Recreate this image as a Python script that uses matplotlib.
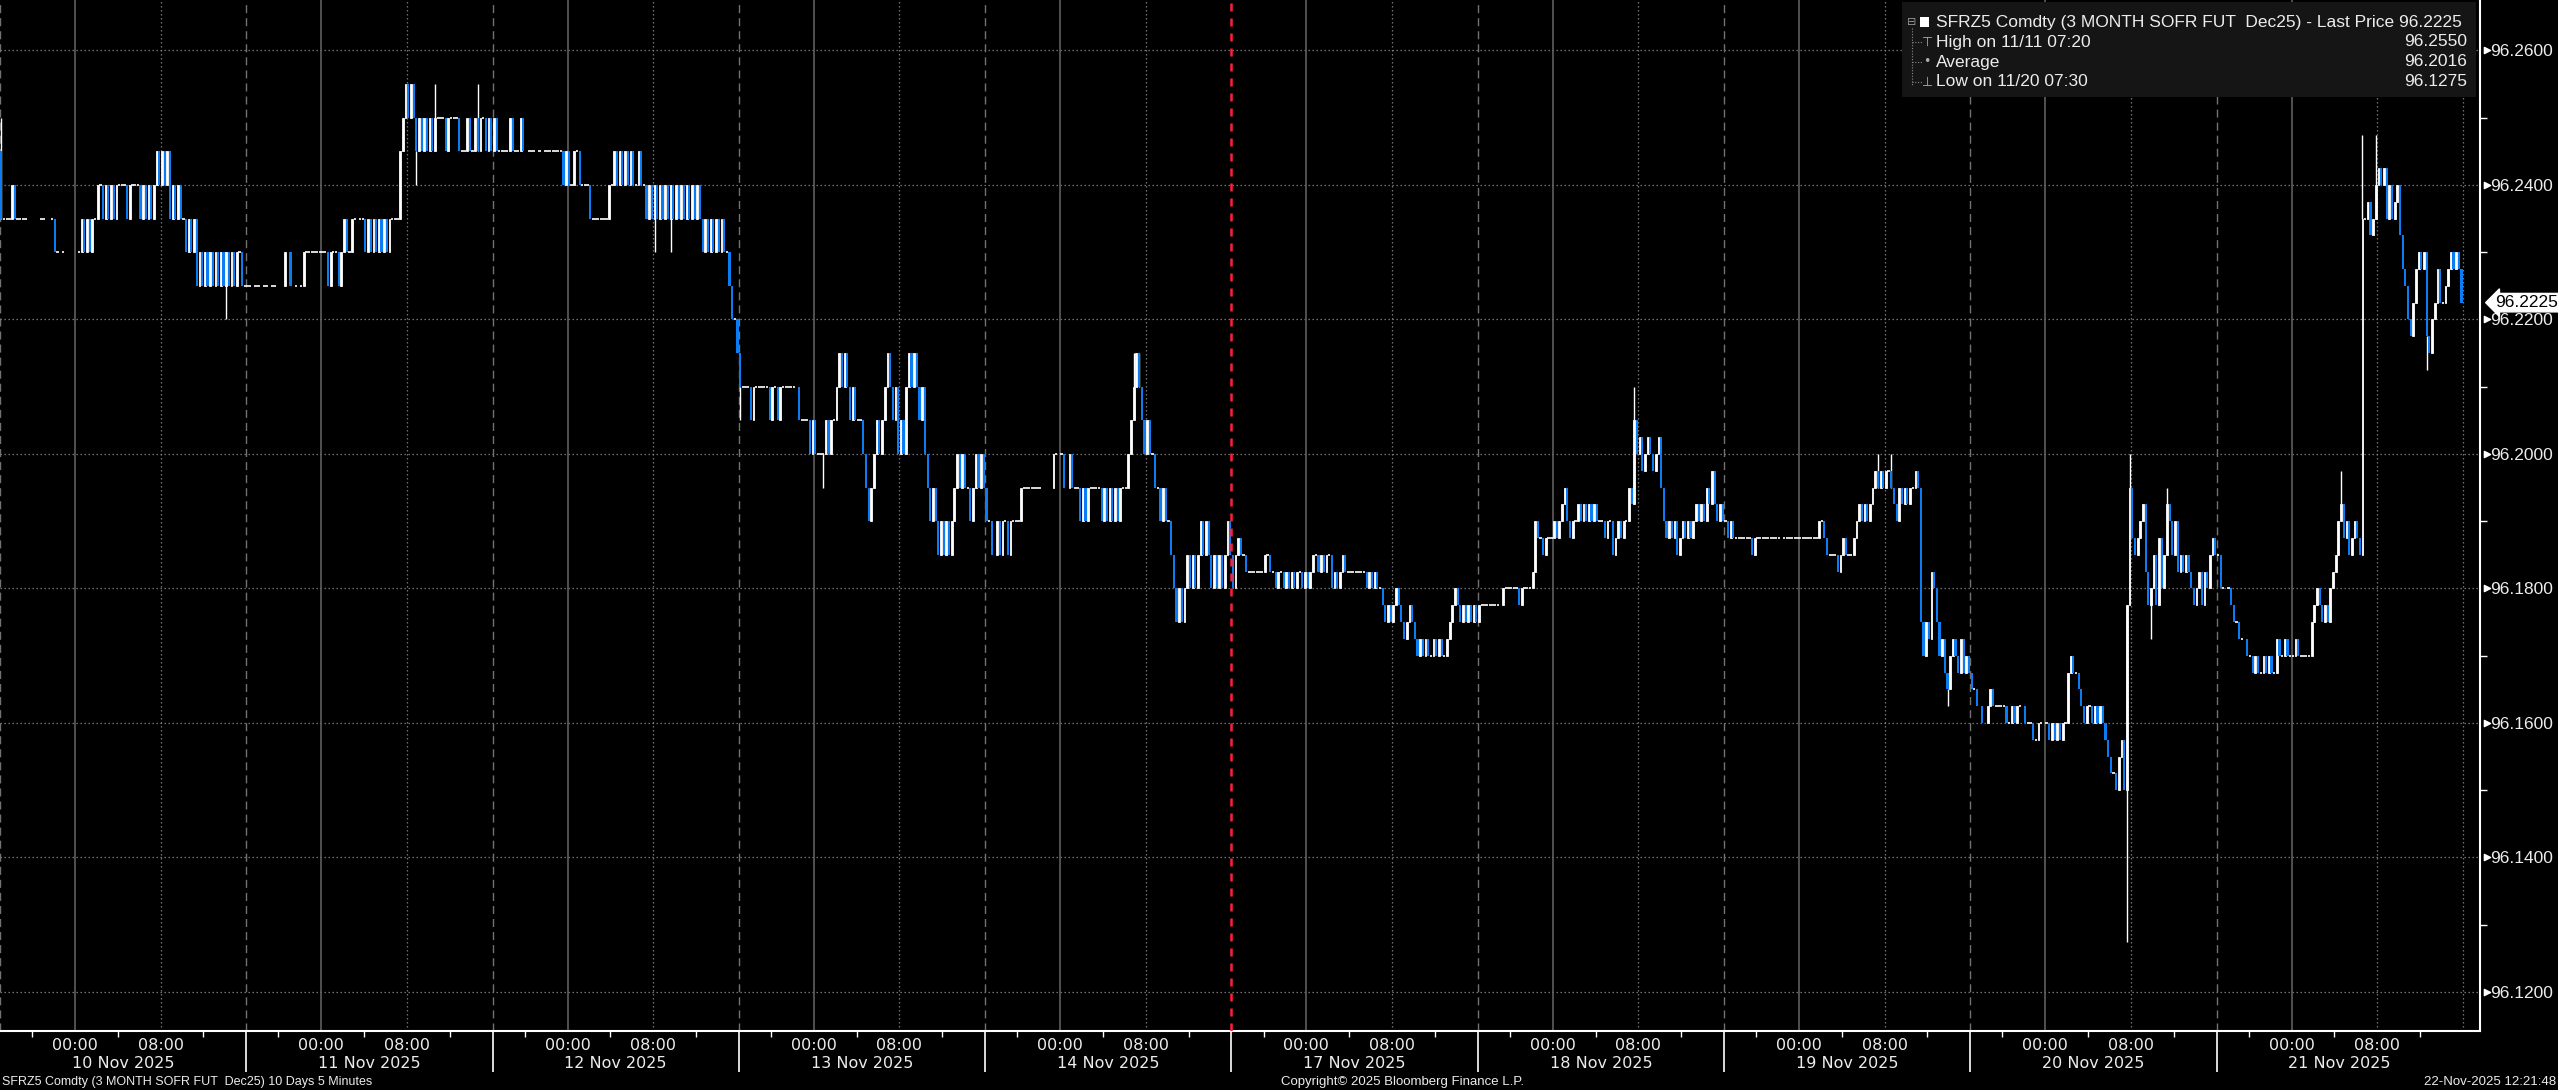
import numpy as np
import matplotlib
matplotlib.use("Agg")
import matplotlib.pyplot as plt
from matplotlib.patches import Rectangle
from matplotlib.lines import Line2D
from matplotlib.ticker import MultipleLocator

plt.rcParams["font.family"] = ["Liberation Sans", "DejaVu Sans"]

BASE, TICK = 96.12, 0.0025      # closes are stored as quarter-ticks above 96.12
SESSION_H, BAR_H = 23, 0.25     # 17:00 -> 16:00 session, 15 minute bars
N_DAYS = 10

day_labels = ["10 Nov 2025", "11 Nov 2025", "12 Nov 2025", "13 Nov 2025", "14 Nov 2025",
              "17 Nov 2025", "18 Nov 2025", "19 Nov 2025", "20 Nov 2025", "21 Nov 2025"]
first_open = 50

# 92 bars per session, None = no trade in that bar
close_10nov = [46, 46, 46, 46, 48, 46, 46, 46, 46, 46,
               None, None, None, None, None,
               46, 46, None, None, 46, 44, 44, None, 44,
               None, None, None, None, None,
               44, 46, 44, 46, 44, 46, 46,
               48, 48, 46, 48, 46, 48, 46, 48, 48, 48, 48,
               46, 48, 48, 48, 48, 46, 48, 46, 48, 46, 48,
               50, 48, 50, 48, 50,
               46, 48, 46, 48, 46, 46,
               44, 46, 44, 46,
               42, 44, 42, 44, 42, 44, 42, 44, 42, 44,
               42, 44, 42, 44, 42, 44, 44, 42, 42]
close_11nov = [42, 42, None, 42, 42, None, 42, 42, None, 42, 42, None,
               None, None,
               44, None, 42, None, 42, None, 42,
               44, 44, 44, 44, 44, 44, 44, 44,
               44, 42, 44, 44, 44, 42, 44,
               46, 44, 44, 46, 46, None, 46, 46, 44, 46,
               44, 46, 44, 46, 44, 46, 44, 46, 46,
               46, 46,
               50, 52, 54, 52, 54,
               52, 50, 52, 50, 52, 50, 52, 50, 52, 52,
               52, 52, 50, 52, 52, 52, 52, 50, 50, 50,
               52, 50, 50, 52, 50, 52, 52, 50, 52, 50]
close_12nov = [52, 50, 50, 50, 50, 50, 52, 50, 50, 50, 52, 50,
               None, 50, 50, 50, None, 50, None, 50, 50, 50, 50, 50, 50,
               50, 48, 50, 48,
               48, 50, 50, 48, 48,
               48, 48, 46, 46, 46, 46, 46, 46, 46, 48, 48,
               50, 48, 50, 48, 50, 48, 50, 48, 48, 50, 48, 48,
               46, 48, 46, 48, 46, 48, 46, 48, 46, 48, 46,
               48, 46, 48, 46, 48, 46, 48, 46, 48, 46,
               44, 46, 44, 46, 44, 46, 44, 46, 44, 44,
               42, 40, 40, 38]
close_13nov = [36,
               36, 36, 36, 34, 36, 36, 36, 36, 36, 36, 34, 36,
               36, 34, 36, 36, 36, 36, 36, 36, None, 34, 34,
               34, 34, 32, 34, 32,
               32, 32, 32, 34, 32,
               34, 34, 36, 38, 36, 38, 36,
               34, 36, 34, 34, 34,
               32, 30, 28, 30,
               32, 34, 32, 34,
               36, 38, 36, 34, 36,
               32, 34, 32,
               36, 38, 36, 38, 36, 34, 36,
               32, 30, 28, 30, 28,
               26, 28, 26, 28, 26, 28,
               30, 32, 30, 32, 30, 30, 28, 30, 32, 30, 32, 30]
close_14nov = [28, 28, 26, None, 28, 26, 28, 28, 26, 28, 28, 28, 28, 30,
               30, 30, 30, 30, 30, 30, 30,
               None, None, None, None,
               32, 32, None, 32, 30, None,
               32, 30,
               30, 30, 28, 30, 28, 30, 30, 30, 30, 30,
               28, 30, 28, 30, 28, 30, 28, 30, 30, 30,
               32,
               34, 36, 38, 36, 34,
               32, 34, 32, 32,
               30, 30,
               28, 30, 28, 28,
               26,
               24, 22, 24, 22, 24, 26, 24,
               26, 24, 26, 28, 26, 28, 26, 24, 26, 24, 26, 24, 26, 28, 26]
close_17nov = [24, 26, 27, 26, 26, 25,
               25, 25, 25, 25, 25, 25, 26, 26, 25,
               25, 24, 25, 25, 24, 25, 24, 25, 24, 25, 25, 24, 25, 24, 25,
               26, 26, 25, 26, 25, 26,
               26, 24, 25, 24, 25, 26,
               25, 25, 25, 25, 25, 25, 25, 25,
               24, 25, 24, 25, 24, 24,
               23, 22, 23, 22, 23, 24, 23, 22, 21, 22, 23, 22,
               21, 20, 21, 20, 21, 20, 20, 21, 20, 21, 20, 20, 21,
               22, 23, 24, 23, 22, 23, 22, 23, 22, 23, 22]
close_18nov = [23, 23, 23, 23, 23, 23, 23, 23, None, 24,
               24, 24, 24, 24, 24, 23, 24, 24, 24, 24, 25,
               28,
               27, 27, 26, 27, 27,
               27, 28, 27, 28, 29,
               30, 28,
               27, 28, 28,
               29, 28, 29, 28, 29, 28, 29, 28, 28,
               28, 27, 28, 28, 26, 27, 28, 27,
               28, 28,
               30, 29,
               34,
               32, 33, 31, 32, 33, 32, 31, 32, 33,
               30, 28,
               27, 28, 27, 28, 26, 27, 28, 27, 28, 27, 28,
               29, 28, 29, 28,
               30, 29, 31, 29,
               28, 29, 28]
close_19nov = [28, 27, 28, 27, 27, 27, 27,
               27, 27, 27, 26, 27, 27, 27, 27, 27, 27,
               27, 27, 27, 27, None, 27, 27, 27, 27,
               27, 27, 27, 27, 27, 27, 27, 27, 27, 28,
               28, 27,
               26, 26,
               26, 26, 25, 26, 27, 26, 26, 26, 27,
               28,
               29, 28, 29, 28, 29, 30,
               31, 30, 31, 30, 31, 31, 30,
               29, 28,
               30, 29, 30, 29, 30, 30,
               31, 30,
               22,
               20, 22, 21,
               25, 24,
               22, 20, 21, 19, 18,
               20, 21, 20, 19, 21, 19, 20, 19]
close_20nov = [18, 18, 17, None, 16, None,
               17, 18, 17, 17, 17, 17, 17,
               16,
               16, 17, 16, 17, 17, None,
               16, 16, 16, 15, 15, 16, 16, None,
               16, 15, 16, 15, 16, 15, 16, 16,
               19, 20, 19, 19,
               18,
               17, 16, 17, 17, 16, 17, 16, 17,
               16, 15,
               14, 13,
               13, 12, 14, 15,
               12,
               23,
               30, 27, 26, 27, 28, 29,
               25, 23, 24,
               26, 23, 27, 24, 26,
               29, 28,
               26, 28, 25,
               26, 25, 26, 25,
               24, 23, 24,
               25, 23, 25, 24,
               26, 27, 26]
close_21nov = [26,
               24, 24, None, 24, 23, 22,
               22, 21, 21, None,
               20, 20, 19, 20, 19, 19, 20, 19, 20, 19, 19,
               21, 20, 20, 21, 20, 20, 20, 21, 20, 20, 20, 20, 20,
               22,
               23, 24, 23, 22, 23, 22, 24,
               25, 26,
               28, 29,
               27, 28, 26, 27, 28, 27, 26,
               46,
               46, 47, 45, 46, 48,
               49, 48, 49, 46, 48, 46, 47, 48,
               45,
               43, 42,
               40, 39, 41,
               43, 44, 43, 44,
               39,
               38, 40,
               41, 43, 41, 41, 42,
               43, 44, 43, 44,
               43, 41]
closes = [close_10nov, close_11nov, close_12nov, close_13nov, close_14nov,
          close_17nov, close_18nov, close_19nov, close_20nov, close_21nov]

# wicks reaching past the body: session, bar, extreme (quarter-ticks)
wick_day = [0, 0, 1, 1, 1, 2, 2, 3, 3, 4, 4, 6, 7, 7, 7, 8, 8, 8, 8, 9, 9, 9, 9]
wick_bar = [0, 84, 63, 70, 86, 60, 66, 0, 31, 55, 57, 58, 57, 62, 83, 58, 59, 67, 73, 46, 54, 59, 78]
wick_lvl = [52, 40, 48, 54, 54, 44, 44, 34, 30, 38, 38, 36, 32, 32, 17, 3, 32, 21, 30, 31, 51, 51, 37]

yticks = [96.12, 96.14, 96.16, 96.18, 96.20, 96.22, 96.24, 96.26]
last_price = 96.2225
legend_title = "SFRZ5 Comdty (3 MONTH SOFR FUT  Dec25) - Last Price 96.2225"
legend_names = ["High on 11/11 07:20", "Average", "Low on 11/20 07:30"]
legend_values = ["96.2550", "96.2016", "96.1275"]
caption = "SFRZ5 Comdty (3 MONTH SOFR FUT  Dec25) 10 Days 5 Minutes"
copyright_txt = "Copyright\u00a9 2025 Bloomberg Finance L.P."
stamp = "22-Nov-2025 12:21:48"

W, H = 2558, 1090
BLUE = "#0b7cf2"
GRID = "#808080"
TXT = "#ececec"
AX_BOTTOM = 1031          # pixel row of the x axis line
AX_RIGHT = 2480

fig = plt.figure(figsize=(W / 100, H / 100), dpi=100, facecolor="black")
ax = fig.add_axes([0, (H - AX_BOTTOM) / H, AX_RIGHT / W, AX_BOTTOM / H], facecolor="black")

# candles
xs, op, cl = [], [], []
prev = first_open
for d, day in enumerate(closes):
    for k, c in enumerate(day):
        if c is None:
            continue
        xs.append(d * SESSION_H + (k + 0.5) * BAR_H)
        op.append(prev); cl.append(c); prev = c
xs, op, cl = np.array(xs), np.array(op), np.array(cl)
po, pc = BASE + TICK * op, BASE + TICK * cl
up, dn, fl = cl > op, cl < op, cl == op
ax.bar(xs[up], (pc - po)[up], bottom=po[up], width=0.17, facecolor="white",
       edgecolor="white", lw=0.6, zorder=3)
ax.bar(xs[dn], (pc - po)[dn], bottom=po[dn], width=0.2, color=BLUE, lw=0, zorder=3)
ax.hlines(pc[fl], xs[fl] - 0.11, xs[fl] + 0.11, color="white", lw=1.2, zorder=3)
for d, k, lv in zip(wick_day, wick_bar, wick_lvl):
    x = d * SESSION_H + (k + 0.5) * BAR_H
    ax.vlines(x, BASE + TICK * lv, BASE + TICK * closes[d][k], color="white", lw=1.0, zorder=2)

# grid
dotted = (0, (1.1, 2.1))
for y in yticks:
    ax.axhline(y, color=GRID, lw=0.9, ls=dotted, zorder=1)
for d in range(N_DAYS):
    x0 = d * SESSION_H
    ax.axvline(x0 + 7, color="#666666", lw=1.1, zorder=1)           # 00:00
    ax.axvline(x0 + 15, color=GRID, lw=0.9, ls=dotted, zorder=1)    # 08:00
    if d == 5:
        ax.axvline(x0, color="#ff1f3d", lw=1.8, ls=(0, (3.2, 2.8)), zorder=4)
    else:
        ax.axvline(x0, color="#727272", lw=1.0, ls=(0, (5.8, 3.6)), zorder=1)
ax.axvline(N_DAYS * SESSION_H, color=GRID, lw=0.9, ls=dotted, zorder=1)

ax.set_xlim(0, 231.6)
ax.set_ylim(96.1142, 96.2675)
for s in ("left", "top"):
    ax.spines[s].set_visible(False)
for s in ("right", "bottom"):
    ax.spines[s].set_color("white"); ax.spines[s].set_linewidth(1.5)

# right price axis
ax.yaxis.tick_right()
ax.set_yticks(yticks)
ax.set_yticklabels([f"{v:.4f}" for v in yticks])
ax.yaxis.set_minor_locator(MultipleLocator(0.01))
ax.tick_params(axis="y", which="major", length=0, pad=7.5, labelcolor=TXT, labelsize=12.5)
ax.tick_params(axis="y", which="minor", length=5, color="white", width=1)
ytr = ax.get_yaxis_transform()
ax.scatter([1.0030] * len(yticks), yticks, marker=">", s=20, color="white",
           transform=ytr, clip_on=False, zorder=5)
ax.text(1.0062, last_price, f"{last_price:.4f}", transform=ytr, ha="left", va="center",
        fontsize=12.5, color="black", zorder=8, clip_on=False,
        bbox=dict(boxstyle="larrow,pad=0.1", fc="white", ec="white"))

# time axis
xt = [d * SESSION_H + h for d in range(N_DAYS) for h in (3, 11, 19)]
ax.set_xticks(xt)
ax.set_xticklabels([])
ax.tick_params(axis="x", which="major", length=4, color="white", width=1, direction="out")
xtr = ax.get_xaxis_transform()
ax.vlines([d * SESSION_H for d in range(1, N_DAYS)], -41 / AX_BOTTOM, 0, transform=xtr,
          color="white", lw=1.2, clip_on=False)
for d in range(N_DAYS):
    x0 = d * SESSION_H
    for h, lab in ((7, "00:00"), (15, "08:00")):
        ax.text(x0 + h, -14 / AX_BOTTOM, lab, transform=xtr, ha="center", va="center",
                color=TXT, fontsize=11.5, family=["DejaVu Sans"])
    ax.text(x0 + 11.5, -33 / AX_BOTTOM, day_labels[d], transform=xtr, ha="center",
            va="center", color=TXT, fontsize=11.5, family=["DejaVu Sans"])

# footer
fy = 1 - 1082 / H
fig.text(2 / W, fy, caption, ha="left", va="center", color=TXT, fontsize=9)
fig.text(1402 / W, fy, copyright_txt, ha="center", va="center", color=TXT, fontsize=9.5)
fig.text(2556 / W, fy, stamp, ha="right", va="center", color=TXT, fontsize=9.5)

# legend box
fig.add_artist(Rectangle((1902 / W, 1 - 97 / H), (2476 - 1902) / W, 95 / H,
                         transform=fig.transFigure, fc="#151515", ec="none", zorder=6))
rows_y = [22, 42, 62, 82]
LFS = 12.5
fig.text(1936 / W, 1 - rows_y[0] / H, legend_title, ha="left", va="center", color=TXT,
         fontsize=LFS, zorder=7)
for y, name, val in zip(rows_y[1:], legend_names, legend_values):
    fig.text(1936 / W, 1 - y / H, name, ha="left", va="center", color=TXT, fontsize=LFS, zorder=7)
    fig.text(2467 / W, 1 - y / H, val, ha="right", va="center", color=TXT, fontsize=LFS, zorder=7)
fig.text(1912 / W, 1 - rows_y[0] / H, "\u229f", ha="center", va="center", color="#9a9a9a",
         fontsize=8, zorder=7, family=["DejaVu Sans"])
fig.add_artist(Rectangle((1920 / W, 1 - 27 / H), 9 / W, 10 / H, transform=fig.transFigure,
                         fc="white", ec="none", zorder=7))
fig.add_artist(Line2D([1912 / W, 1912 / W], [1 - 28 / H, 1 - 86 / H], transform=fig.transFigure,
                      color="#8a8a8a", lw=0.8, ls=(0, (1, 1.5)), zorder=7))
for y, mark in zip(rows_y[1:], ["\u22a4", "\u2022", "\u22a5"]):
    fig.add_artist(Line2D([1912 / W, 1922 / W], [1 - y / H, 1 - y / H], transform=fig.transFigure,
                          color="#8a8a8a", lw=0.8, ls=(0, (1, 1.5)), zorder=7))
    fig.text(1927 / W, 1 - y / H, mark, ha="center", va="center", color="#b0b0b0",
             fontsize=9, zorder=7, family=["DejaVu Sans"])

fig.savefig("out.png", dpi=100, facecolor="black")
